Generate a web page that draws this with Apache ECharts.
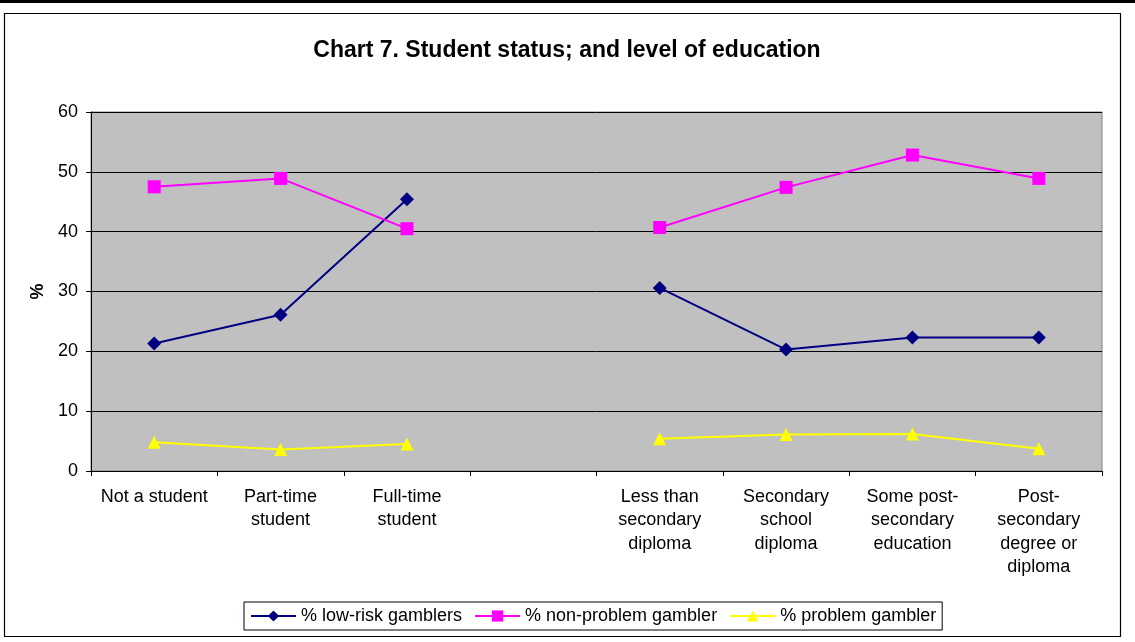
<!DOCTYPE html>
<html>
<head>
<meta charset="utf-8">
<script src="https://cdn.jsdelivr.net/npm/echarts@6/dist/echarts.min.js"></script>
<style>
  html, body { margin: 0; padding: 0; background: #fff; }
  #main { width: 1135px; height: 642px; }
</style>
</head>
<body>
<div id="main"></div>
<script>
// 图表数据
const categories = ['Not a student', 'Part-time\nstudent', 'Full-time\nstudent', '',
  'Less than\nsecondary\ndiploma', 'Secondary\nschool\ndiploma',
  'Some post-\nsecondary\neducation', 'Post-\nsecondary\ndegree or\ndiploma']
const lowRisk = [21.3, 26.1, 45.4, null, 30.6, 20.3, 22.3, 22.3]
const nonProblem = [47.5, 48.9, 40.5, null, 40.7, 47.4, 52.8, 48.9]
const problem = [4.8, 3.6, 4.5, null, 5.4, 6.1, 6.2, 3.7]
const yTicks = [0, 10, 20, 30, 40, 50, 60]

const font = "'Liberation Sans', Arial, sans-serif"

var myChart = echarts.init(document.getElementById('main'))

function line(name, data, color, symbol, size) {
  return {
    name: name,
    type: 'line',
    data: data,
    connectNulls: false,
    symbol: symbol,
    symbolSize: size,
    lineStyle: { color: color, width: 2 },
    itemStyle: { color: color },
    emphasis: { disabled: true },
    animation: false
  }
}

const options = {
  animation: false,
  textStyle: { fontFamily: font },
  title: {
    text: 'Chart 7. Student status; and level of education',
    left: 562,
    top: 34,
    textAlign: 'center',
    textStyle: { fontFamily: font, fontSize: 23, fontWeight: 'bold', color: '#000' }
  },
  graphic: [
    { type: 'rect', shape: { x: 0, y: 0, width: 1135, height: 3 }, style: { fill: '#000' } },
    { type: 'rect', shape: { x: 4.5, y: 13.5, width: 1116, height: 623 },
      style: { fill: 'none', stroke: '#000', lineWidth: 1.2 }, z: -1 }
  ],
  legend: {
    left: 244,
    top: 602,
    padding: [5, 6, 5, 6],
    itemGap: 12,
    itemWidth: 45,
    itemHeight: 14,
    borderColor: '#000',
    borderWidth: 1,
    textStyle: { fontFamily: font, fontSize: 18, color: '#000' },
    data: ['% low-risk gamblers', '% non-problem gambler', '% problem gambler']
  },
  grid: {
    left: 91,
    right: 33,
    top: 112,
    bottom: 171,
    show: true,
    backgroundColor: '#C0C0C0',
    borderColor: '#808080',
    borderWidth: 1
  },
  xAxis: {
    type: 'category',
    data: categories,
    boundaryGap: true,
    axisLine: { lineStyle: { color: '#000', width: 1 } },
    axisTick: { show: true, length: 5, lineStyle: { color: '#000' } },
    axisLabel: {
      interval: 0,
      margin: 14,
      fontSize: 18,
      lineHeight: 23.5,
      color: '#000',
      fontFamily: font
    }
  },
  yAxis: {
    type: 'value',
    min: yTicks[0],
    max: yTicks[yTicks.length - 1],
    interval: 10,
    name: '%',
    nameLocation: 'middle',
    nameRotate: 90,
    nameGap: 44,
    nameTextStyle: { fontFamily: font, fontSize: 18, fontWeight: 'bold', color: '#000' },
    axisLine: { show: true, lineStyle: { color: '#000', width: 1 } },
    axisTick: { show: true, length: 5, lineStyle: { color: '#000' } },
    axisLabel: { margin: 13, fontSize: 18, color: '#000', fontFamily: font },
    splitLine: { lineStyle: { color: '#000', width: 1 } }
  },
  series: [
    line('% low-risk gamblers', lowRisk, '#000080', 'diamond', 14),
    line('% non-problem gambler', nonProblem, '#FF00FF', 'rect', 13),
    line('% problem gambler', problem, '#FFFF00', 'triangle', 13)
  ]
}

myChart.setOption(options)
</script>
</body>
</html>
